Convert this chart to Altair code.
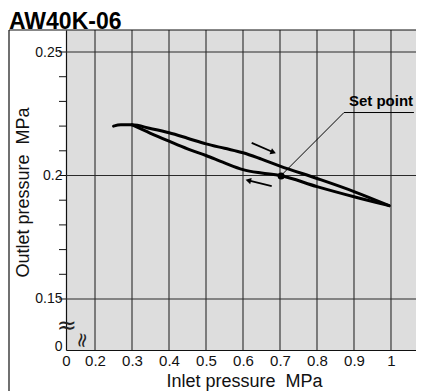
import altair as alt
import pandas as pd

# ---- data ----
up_x = [0.25, 0.27, 0.30, 0.35, 0.40, 0.45, 0.50, 0.55, 0.60, 0.65, 0.70, 0.80, 0.90, 0.995]
up_y = [0.2200, 0.2205, 0.2205, 0.2190, 0.2173, 0.2151, 0.2128, 0.2110, 0.2092, 0.2066, 0.2038, 0.1988, 0.1935, 0.1878]
lo_x = [0.30, 0.35, 0.40, 0.45, 0.50, 0.55, 0.60, 0.65, 0.70, 0.80, 0.90, 0.995]
lo_y = [0.2205, 0.2171, 0.2139, 0.2108, 0.2081, 0.2051, 0.2024, 0.2010, 0.2000, 0.1955, 0.1914, 0.1878]

set_point = (0.703, 0.1998)
leader_x = [0.705, 0.873, 1.062]
leader_y = [0.2003, 0.2255, 0.2255]
label_pos = (0.973, 0.2283)

arrow_up = [(0.6235, 0.2132), (0.6819, 0.2094)]
arrow_dn = [(0.6776, 0.1957), (0.6143, 0.1980)]

x_grid = [0.2, 0.3, 0.4, 0.5, 0.6, 0.7, 0.8, 0.9, 1.0]
y_grid = [0.15, 0.2, 0.25]
y_minor = [0.15, 0.16, 0.17, 0.18, 0.19, 0.20, 0.21, 0.22, 0.23, 0.24, 0.25]
x_tick_values = [0.1216] + x_grid
y_tick_values = [0.1307, 0.15, 0.2, 0.25]

x_domain = [0.1216, 1.0676]
y_domain = [0.12935, 0.25891]

FONT = "Liberation Sans"
INK = "#111111"
W, H = 350, 320

xs = alt.Scale(domain=x_domain, nice=False, zero=False)
ys = alt.Scale(domain=y_domain, nice=False, zero=False)

X_AXIS = alt.Axis(
    values=x_tick_values,
    labelExpr="datum.value < 0.15 ? '0' : format(datum.value, '~g')",
    ticks=False, grid=False, labelPadding=3, labelFlush=False,
    labelFont=FONT, labelFontSize=15, labelColor="#111",
    domainColor=INK, domainWidth=1.2,
    title="Inlet pressure\u00a0 MPa", titleFont=FONT, titleFontSize=18,
    titleFontWeight="normal", titleColor="#111",
    titleX=178, titleY=31, titleAlign="center", titleBaseline="middle",
)
Y_AXIS = alt.Axis(
    values=y_tick_values,
    labelExpr="datum.value < 0.14 ? '0' : format(datum.value, '~g')",
    ticks=False, grid=False, labelPadding=4, labelFlush=False,
    labelFont=FONT, labelFontSize=14, labelColor="#111",
    domainColor=INK, domainWidth=1.2,
    title="Outlet pressure\u00a0 MPa", titleFont=FONT, titleFontSize=18,
    titleFontWeight="normal", titleColor="#111",
    titleX=-43, titleY=162, titleAngle=270, titleAlign="center", titleBaseline="middle",
)


def X(f):
    return alt.X(f, type="quantitative", scale=xs, axis=X_AXIS)


def Y(f):
    return alt.Y(f, type="quantitative", scale=ys, axis=Y_AXIS)


# ---- grid ----
vgrid = alt.Chart(pd.DataFrame({"x": x_grid})).mark_rule(color="#2a2a2a", strokeWidth=1.1).encode(
    x=X("x"), y=alt.value(0), y2=alt.value(H),
)
hgrid = alt.Chart(pd.DataFrame({"y": y_grid})).mark_rule(color="#2a2a2a", strokeWidth=1.1).encode(
    y=Y("y"), x=alt.value(0), x2=alt.value(W),
)
minor = alt.Chart(pd.DataFrame({"y": y_minor})).mark_rule(color=INK, strokeWidth=1).encode(
    y=Y("y"), x=alt.value(-7), x2=alt.value(0),
)

# ---- outer frame ----
frame_left = alt.Chart(pd.DataFrame({"a": [0]})).mark_rule(color=INK, strokeWidth=1.2).encode(
    x=alt.value(-57), y=alt.value(0), y2=alt.value(H + 45))
frame_top = alt.Chart(pd.DataFrame({"a": [0]})).mark_rule(color=INK, strokeWidth=1.2).encode(
    y=alt.value(0), x=alt.value(-57), x2=alt.value(W + 5))

# ---- curves ----
curves_df = pd.concat([
    pd.DataFrame({"x": up_x, "y": up_y, "s": "up"}),
    pd.DataFrame({"x": lo_x, "y": lo_y, "s": "down"}),
])
curves = alt.Chart(curves_df).mark_line(
    color="black", strokeWidth=3, strokeCap="round", strokeJoin="round", interpolate="monotone"
).encode(x=X("x"), y=Y("y"), detail="s:N")

dot = alt.Chart(pd.DataFrame({"x": [set_point[0]], "y": [set_point[1]]})).mark_point(
    filled=True, color="black", size=50, opacity=1
).encode(x=X("x"), y=Y("y"))

leader = alt.Chart(pd.DataFrame({"x": leader_x, "y": leader_y, "o": [0, 1, 2]})).mark_line(
    color="black", strokeWidth=1
).encode(x=X("x"), y=Y("y"), order="o:Q")

label = alt.Chart(pd.DataFrame({"x": [label_pos[0]], "y": [label_pos[1]], "t": ["Set point"]})).mark_text(
    font=FONT, fontSize=15, fontWeight="bold", color="black", align="center", baseline="alphabetic"
).encode(x=X("x"), y=Y("y"), text="t:N")


# ---- arrows ----
def arrow(pts, shape, ang):
    (x0, y0), (x1, y1) = pts
    shaft = alt.Chart(pd.DataFrame({"x": [x0], "y": [y0], "x2": [x1], "y2": [y1]})).mark_rule(
        color="black", strokeWidth=1.8
    ).encode(x=X("x"), y=Y("y"), x2="x2:Q", y2="y2:Q")
    head = alt.Chart(pd.DataFrame({"x": [x1], "y": [y1]})).mark_point(
        shape=shape, filled=True, color="black", size=40, angle=ang, opacity=1
    ).encode(x=X("x"), y=Y("y"))
    return [shaft, head]


arr1 = arrow(arrow_up, "triangle-right", 23)
arr2 = arrow(arrow_dn, "triangle-left", 14)

# ---- axis break marks ----
ybreak = alt.Chart(pd.DataFrame({"x": [0.124], "y": [0.1389], "t": ["≈"]})).mark_text(
    font="DejaVu Sans", fontSize=24, color="#222", align="center", baseline="middle"
).encode(x=X("x"), y=Y("y"), text="t:N")
xbreak = alt.Chart(pd.DataFrame({"x": [0.1649], "y": [0.1333], "t": ["≈"]})).mark_text(
    font="DejaVu Sans", fontSize=20, color="#222", align="center", baseline="middle", angle=100
).encode(x=X("x"), y=Y("y"), text="t:N")

title = alt.Chart(pd.DataFrame({"t": ["AW40K-06"]})).mark_text(
    font=FONT, fontSize=23, fontWeight="bold", color="black", align="left", baseline="alphabetic"
).encode(x=alt.value(-57), y=alt.value(-1), text="t:N")

chart = alt.layer(
    vgrid, hgrid, minor, frame_left, frame_top, curves, leader, dot, label,
    *arr1, *arr2, ybreak, xbreak, title
).properties(
    width=W, height=H,
    autosize=alt.AutoSizeParams(type="none"),
    padding={"left": 58, "top": 22, "right": 0, "bottom": 41},
).configure_view(fill="#dddddd", stroke=None)

chart.save("out.html", embed_options={"renderer": "svg", "actions": False})
